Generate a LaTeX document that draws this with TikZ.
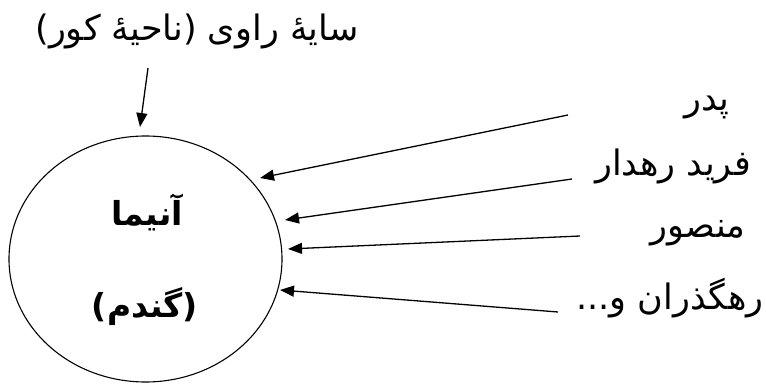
\documentclass[tikz,border=0pt]{standalone}
\usepackage{fontspec}
\usetikzlibrary{shapes.geometric,arrows.meta}
\TeXXeTstate=1
\newfontfamily\arabicfont[Script=Arabic]{DejaVu Sans}
\begin{document}
\begin{tikzpicture}[x=1pt,y=-1pt,
  lbl/.style={font=\arabicfont\fontsize{35}{40}\selectfont, inner sep=0pt},
  inlbl/.style={font=\arabicfont\bfseries\fontsize{33}{38}\selectfont, inner sep=0pt},
  arr/.style={line width=1.3pt, -{Triangle[length=14pt,width=11pt]}}]
\useasboundingbox (0,0) rectangle (766,385);
\node[draw, line width=1.1pt, ellipse, minimum width=273pt, minimum height=246pt, inner sep=0pt] (anima) at (145.5,259) {};
\node[inlbl] (t1) at (147,212) {\beginR آنیما\endR};
\node[inlbl] (t2) at (145,307) {\beginR (گندم)\endR};
\node[lbl] (top) at (197,31) {\beginR سایهٔ راوی (ناحیهٔ کور)\endR};
\node[lbl] (l1) at (707,108) {\beginR پدر\endR};
\node[lbl] (l2) at (673,166) {\beginR فرید رهدار\endR};
\node[lbl] (l3) at (698,233) {\beginR منصور\endR};
\node[lbl] (l4) at (670,298) {\beginR رهگذران و...\endR};
\coordinate (s0) at (148,68);
\coordinate (s1) at (568,115);
\coordinate (s2) at (572,179);
\coordinate (s3) at (580,236);
\coordinate (s4) at (558,312);
\coordinate (e0) at (140,127);
\coordinate (e1) at (260,178);
\coordinate (e2) at (285,220);
\coordinate (e3) at (288,249);
\coordinate (e4) at (280,290);
\draw[arr] (s0) -- (e0);
\draw[arr] (s1) -- (e1);
\draw[arr] (s2) -- (e2);
\draw[arr] (s3) -- (e3);
\draw[arr] (s4) -- (e4);
\end{tikzpicture}
\end{document}
